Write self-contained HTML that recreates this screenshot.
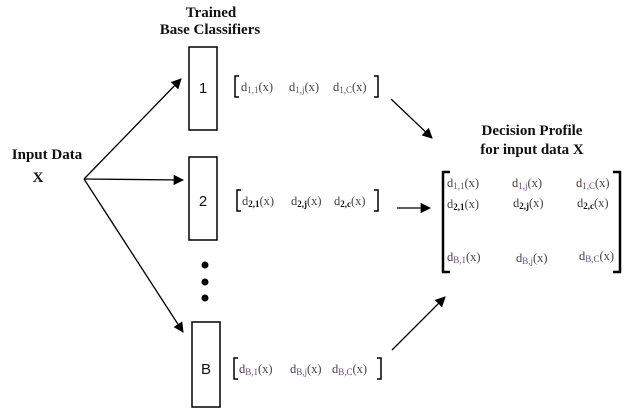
<!DOCTYPE html>
<html><head><meta charset="utf-8"><style>
body{margin:0;background:#fff;width:630px;height:415px;overflow:hidden}
svg{display:block}
.t{font-family:"Liberation Serif",serif;font-weight:bold;font-size:15px;fill:#111}
.d{font-family:"Liberation Serif",serif;font-size:12.5px;fill:#444}
.s{font-size:9px;fill:#6a4a7a}
.b{font-weight:bold;fill:#111}
.n{font-family:"Liberation Sans",sans-serif;font-size:15px;fill:#111}
</style></head><body>
<svg width="630" height="415">
<defs><marker id="ah" viewBox="0 0 10 10" refX="9" refY="5" markerWidth="8" markerHeight="8" orient="auto"><path d="M0,0L10,5L0,10z" fill="#000"/></marker></defs>
<g>
<text class="t" x="211" y="17" text-anchor="middle">Trained</text>
<text class="t" x="210" y="34" text-anchor="middle">Base Classifiers</text></g>
<g>
<text class="t" x="47" y="159" text-anchor="middle">Input Data</text>
<text class="t" x="38" y="182" text-anchor="middle">X</text></g>
<g stroke="#000" stroke-width="1.3" fill="none">
<line x1="84" y1="179" x2="181" y2="79" marker-end="url(#ah)"/>
<line x1="84" y1="179" x2="183" y2="180" marker-end="url(#ah)"/>
<line x1="84" y1="179" x2="183" y2="332" marker-end="url(#ah)"/>
</g>
<g><rect x="189" y="47" width="28" height="83" fill="none" stroke="#000" stroke-width="1.5"/><text class="n" x="203" y="93" text-anchor="middle">1</text></g>
<g><rect x="189" y="157" width="28" height="83" fill="none" stroke="#000" stroke-width="1.5"/><text class="n" x="203" y="206" text-anchor="middle">2</text></g>
<g fill="#000"><circle cx="205" cy="265" r="3.5"/><circle cx="205" cy="282" r="3.5"/><circle cx="205" cy="298" r="3.5"/></g>
<g><rect x="192" y="322" width="28" height="85" fill="none" stroke="#000" stroke-width="1.5"/><text class="n" x="206" y="374" text-anchor="middle">B</text></g>
<g>
<path d="M239,76H235V97H239M374,76H378V97H374" fill="none" stroke="#000" stroke-width="1.5"/>
<text class="d" x="241" y="91">d<tspan class="s" dy="2">1,1</tspan><tspan dy="-2">(x)</tspan></text>
<text class="d" x="289" y="91">d<tspan class="s" dy="2">1,j</tspan><tspan dy="-2">(x)</tspan></text>
<text class="d" x="333" y="91">d<tspan class="s" dy="2">1,C</tspan><tspan dy="-2">(x)</tspan></text></g>
<g>
<path d="M241,190H237V211H241M374,190H378V211H374" fill="none" stroke="#000" stroke-width="1.5"/>
<text class="d" x="242" y="205">d<tspan class="s b" dy="2">2,1</tspan><tspan dy="-2">(x)</tspan></text>
<text class="d" x="291" y="205">d<tspan class="s b" dy="2">2,j</tspan><tspan dy="-2">(x)</tspan></text>
<text class="d" x="334" y="205">d<tspan class="s b" dy="2">2,c</tspan><tspan dy="-2">(x)</tspan></text></g>
<g>
<path d="M238,358H234V379H238M377,358H381V379H377" fill="none" stroke="#000" stroke-width="1.5"/>
<text class="d" x="239" y="373">d<tspan class="s" dy="2">B,1</tspan><tspan dy="-2">(x)</tspan></text>
<text class="d" x="290" y="373">d<tspan class="s" dy="2">B,j</tspan><tspan dy="-2">(x)</tspan></text>
<text class="d" x="332" y="373">d<tspan class="s" dy="2">B,C</tspan><tspan dy="-2">(x)</tspan></text></g>
<g stroke="#000" stroke-width="1.3" fill="none">
<line x1="391" y1="99" x2="432" y2="138" marker-end="url(#ah)"/>
<line x1="397" y1="208" x2="430" y2="208" marker-end="url(#ah)"/>
<line x1="392" y1="350" x2="445" y2="297" marker-end="url(#ah)"/>
</g>
<g>
<text class="t" x="532" y="135" text-anchor="middle">Decision Profile</text>
<text class="t" x="532" y="154" text-anchor="middle">for input data X</text></g>
<g>
<path d="M450,172H443V272H450M613,172H620V272H613" fill="none" stroke="#000" stroke-width="2.5"/>
<text class="d" x="447" y="187">d<tspan class="s" dy="2">1,1</tspan><tspan dy="-2">(x)</tspan></text>
<text class="d" x="512" y="187">d<tspan class="s" dy="2">1,j</tspan><tspan dy="-2">(x)</tspan></text>
<text class="d" x="576" y="187">d<tspan class="s" dy="2">1,C</tspan><tspan dy="-2">(x)</tspan></text>
<text class="d" x="447" y="208">d<tspan class="s b" dy="2">2,1</tspan><tspan dy="-2">(x)</tspan></text>
<text class="d" x="513" y="207">d<tspan class="s b" dy="2">2,j</tspan><tspan dy="-2">(x)</tspan></text>
<text class="d" x="577" y="207">d<tspan class="s b" dy="2">2,c</tspan><tspan dy="-2">(x)</tspan></text>
<text class="d" x="447" y="261">d<tspan class="s" dy="2">B,1</tspan><tspan dy="-2">(x)</tspan></text>
<text class="d" x="516" y="262">d<tspan class="s" dy="2">B,j</tspan><tspan dy="-2">(x)</tspan></text>
<text class="d" x="579" y="260">d<tspan class="s" dy="2">B,C</tspan><tspan dy="-2">(x)</tspan></text></g>
</svg>
</body></html>
